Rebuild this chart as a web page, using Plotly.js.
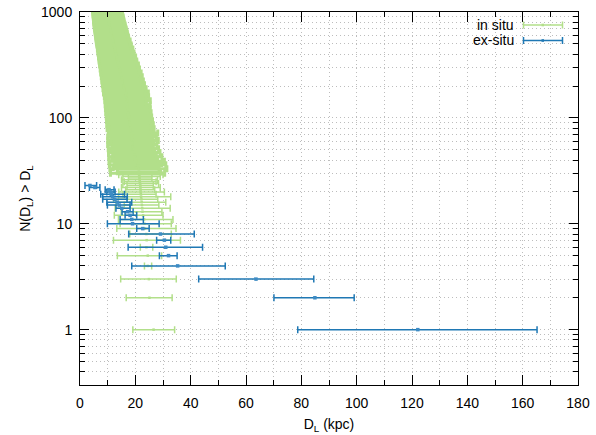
<!DOCTYPE html>
<html>
<head>
<meta charset="utf-8">
<script src="https://cdn.plot.ly/plotly-3.0.1.min.js"></script>
<style>
html,body{margin:0;padding:0;background:#fff;}
#chart{width:596px;height:435px;}
</style>
</head>
<body>
<div id="chart"></div>
<script>
// ---------- in situ (rank N, distance D_L, lower / upper error in kpc) ----------
var inSituN = [1,2,3,4,5,6,7,8,9,10,11,12,13,14,15,16,17,18,19,20,21,22,23,24,25,26,27,28,29,
  30,31,33,34,36,37,39,41,43,45,47,49,51,53,56,58,61,63,66,69,72,75,79,82,86,90,94,98,102,107,
  112,117,122,127,133,139,145,151,158,165,172,180,188,196,205,214,223,233,244,254,266,277,290,
  303,316,330,345,360,376,393,410,428,447,467,488,510,532,556,580,606,633,661,690,721,753,786,
  821,857,895,935,976,1020,1065,1110,1160,1210];
var inSituD = [26.6,25.1,24.9,24.5,24.5,24.0,24.1,24.0,23.5,23.3,23.2,22.8,22.6,22.5,22.4,22.3,22.2,22.1,22.0,21.9,21.9,21.8,21.8,21.7,21.6,21.6,21.5,21.4,21.4,
  20.8,21.3,21.1,20.3,20.8,21.0,20.5,19.8,20.0,19.7,19.6,19.0,19.3,19.0,18.9,18.9,19.2,18.7,18.8,18.7,19.2,18.3,18.3,18.2,18.1,18.0,17.9,17.8,17.7,17.4,
  17.5,17.2,17.3,17.0,17.2,16.7,17.2,16.5,16.8,16.4,16.6,16.1,16.1,15.7,15.7,15.4,15.4,15.1,15.1,14.8,14.8,14.5,14.4,
  14.2,14.1,13.8,13.7,13.4,13.4,13.1,13.0,12.7,12.7,12.4,12.3,12.0,12.0,11.7,11.6,11.4,11.3,11.1,11.0,10.8,10.7,10.5,
  10.4,10.3,10.2,10.0,10.0,9.8,9.7,9.6,9.5,9.3];
var inSituErrLo = [7.5,8.4,10.2,1.2,11.0,2.2,12.0,6.0,10.2,8.8,9.3,10.4,7.7,9.8,6.4,9.3,10.1,8.2,6.5,7.9,5.4,6.8,4.8,6.2,5.6,6.6,4.0,5.9,7.4,
  9.8,7.8,10.3,8.3,10.2,8.5,10.0,8.3,9.6,7.9,9.3,8.0,9.1,7.5,8.9,7.9,9.1,7.5,8.8,7.9,8.9,7.8,8.5,7.6,8.4,7.6,8.3,7.6,8.2,7.4,
  8.2,7.4,8.1,7.4,8.1,7.3,8.2,7.4,8.0,7.5,8.1,7.4,7.8,7.2,7.6,7.2,7.5,7.1,7.4,7.0,7.3,6.9,7.1,
  6.8,7.0,6.7,6.8,6.5,6.7,6.4,6.5,6.2,6.4,6.1,6.2,6.0,6.1,5.9,5.9,5.8,5.8,5.7,5.7,5.6,5.6,5.5,
  5.5,5.4,5.4,5.3,5.3,5.2,5.2,5.1,5.2,5.1];
var inSituErrHi = [7.6,8.2,9.9,1.4,5.0,2.3,12.2,9.0,11.2,9.7,10.4,7.2,7.0,10.1,6.1,8.7,5.9,10.7,5.5,8.6,5.1,7.2,4.7,6.7,5.9,6.4,4.5,7.6,8.6,
  9.8,7.8,10.3,8.3,10.2,8.5,10.0,8.3,9.6,7.9,9.3,8.0,9.1,7.5,8.9,7.9,9.1,7.5,8.8,7.9,8.9,7.8,8.5,7.6,8.4,7.6,8.3,7.6,8.2,7.4,
  8.2,7.4,8.1,7.4,8.1,7.3,8.2,7.4,8.0,7.5,8.1,7.4,7.8,7.2,7.6,7.2,7.5,7.1,7.4,7.0,7.3,6.9,7.1,
  6.8,7.0,6.7,6.8,6.5,6.7,6.4,6.5,6.2,6.4,6.1,6.2,6.0,6.1,5.9,5.9,5.8,5.8,5.7,5.7,5.6,5.6,5.5,
  5.5,5.4,5.4,5.3,5.3,5.2,5.2,5.1,5.2,5.1];
var inSituSparseCount = 29;   // ranks 1..29 drawn as separate bars, the rest is the dense band

// ---------- ex-situ ----------
var exSituN = [1,2,3,4,5,6,7,8,9,10,11,12,13,14,15,16,17,18,19,20,21,22,23];
var exSituD = [122.1,84.9,63.6,35.3,32.0,31.0,30.5,29.1,22.7,19.0,18.7,18.1,17.2,15.1,14.2,13.5,12.5,11.8,11.3,11.0,10.5,5.4,3.6];
var exSituErrLo = [43.4,14.8,20.7,16.6,3.3,13.6,2.8,11.5,2.2,9.1,4.2,1.8,2.0,2.1,4.3,3.8,4.3,3.6,3.8,1.3,1.4,2.0,1.8];
var exSituErrHi = [43.1,14.2,20.9,17.2,3.1,13.3,2.3,12.2,2.3,9.6,4.2,2.4,2.0,3.0,3.9,5.2,4.5,5.3,4.8,1.7,1.8,1.8,2.4];

// ---------- axis ticks ----------
var xMajorTicks = [0,20,40,60,80,100,120,140,160,180];
var yMajorTicks = [1,10,100,1000];
var yMajorLabels = ['1','10','100','1000'];
var yMinorTicks = [0.3,0.4,0.5,0.6,0.7,0.8,0.9,2,3,4,5,6,7,8,9,20,30,40,50,60,70,80,90,200,300,400,500,600,700,800,900];

var green = '#b2df8a', blue = '#1f78b4';
var FONT = 'Liberation Sans, Arial, Helvetica, sans-serif';
var k = inSituSparseCount;

function errTrace(x, y, lo, hi, color, mcolor, msize, thick){
  return {
    type:'scatter', mode:'markers', showlegend:false, hoverinfo:'skip',
    x:x, y:y,
    marker:{color:mcolor, size:msize, symbol:'square'},
    error_x:{type:'data', symmetric:false, array:hi, arrayminus:lo, color:color, thickness:thick, width:3.5}
  };
}

var traces = [
  errTrace(inSituD.slice(k), inSituN.slice(k), inSituErrLo.slice(k), inSituErrHi.slice(k), green, green, 2.5, 3),
  errTrace(inSituD.slice(0,k), inSituN.slice(0,k), inSituErrLo.slice(0,k), inSituErrHi.slice(0,k), green, green, 2.5, 1.5),
  errTrace(exSituD, exSituN, exSituErrLo, exSituErrHi, blue, '#3d8bc4', 3.5, 1.5)
];

// legend drawn in paper coordinates
function px2x(p){ return (p-80)/498; }
function py2y(p){ return 1-(p-12)/373; }
var legendRows = [{label:'in situ', color:green, py:25}, {label:'ex-situ', color:blue, py:40.5}];
var shapes = [], annotations = [];
legendRows.forEach(function(r){
  var y = py2y(r.py), dy = 3.5/373;
  shapes.push({type:'line', xref:'paper', yref:'paper', x0:px2x(523.5), x1:px2x(562.5), y0:y, y1:y, line:{color:r.color, width:1.5}});
  shapes.push({type:'line', xref:'paper', yref:'paper', x0:px2x(523.5), x1:px2x(523.5), y0:y-dy, y1:y+dy, line:{color:r.color, width:1.5}});
  shapes.push({type:'line', xref:'paper', yref:'paper', x0:px2x(562.5), x1:px2x(562.5), y0:y-dy, y1:y+dy, line:{color:r.color, width:1.5}});
  shapes.push({type:'rect', xref:'paper', yref:'paper', x0:px2x(541.5), x1:px2x(544), y0:y-1.3/373, y1:y+1.3/373, line:{width:0}, fillcolor:r.color});
  annotations.push({xref:'paper', yref:'paper', x:px2x(515), y:y, xanchor:'right', yanchor:'middle',
    text:r.label, showarrow:false, font:{family:FONT, size:14, color:'#000'}, borderpad:0});
});

var GRID = '#bdbdbd', GDASH = '1px,3px';
var layout = {
  width:596, height:435,
  margin:{l:80, r:18, t:12, b:50},
  paper_bgcolor:'#fff', plot_bgcolor:'#fff',
  font:{family:FONT, size:14, color:'#000'},
  showlegend:false,
  xaxis:{
    range:[0,180], tickmode:'array', tickvals:xMajorTicks,
    ticks:'inside', ticklen:10, tickwidth:1, tickcolor:'#000',
    showline:true, linecolor:'#000', linewidth:1, mirror:'ticks',
    showgrid:true, gridcolor:GRID, griddash:GDASH, gridwidth:1,
    zeroline:false,
    minor:{dtick:10, tick0:0, ticks:'inside', ticklen:5, tickcolor:'#000', showgrid:true, gridcolor:GRID, griddash:GDASH, gridwidth:1},
    tickfont:{family:FONT, size:14},
    ticklabelstandoff:5,
    title:{text:'D<sub>L</sub> (kpc)', font:{family:FONT, size:14}, standoff:9}
  },
  yaxis:{
    type:'log', range:[Math.log10(0.3), 3],
    tickmode:'array', tickvals:yMajorTicks, ticktext:yMajorLabels,
    ticks:'inside', ticklen:9, tickwidth:1, tickcolor:'#000',
    showline:true, linecolor:'#000', linewidth:1, mirror:'ticks',
    showgrid:true, gridcolor:GRID, griddash:GDASH, gridwidth:1,
    zeroline:false,
    minor:{tickmode:'array', tickvals:yMinorTicks, ticks:'inside', ticklen:5, tickcolor:'#000', showgrid:true, gridcolor:GRID, griddash:GDASH, gridwidth:1},
    tickfont:{family:FONT, size:14},
    ticklabelstandoff:4,
    title:{text:'N(D<sub>L</sub>) > D<sub>L</sub>', font:{family:FONT, size:14}, standoff:7}
  },
  shapes:shapes,
  annotations:annotations
};

Plotly.newPlot('chart', traces, layout, {displayModeBar:false, staticPlot:true});
</script>
</body>
</html>
